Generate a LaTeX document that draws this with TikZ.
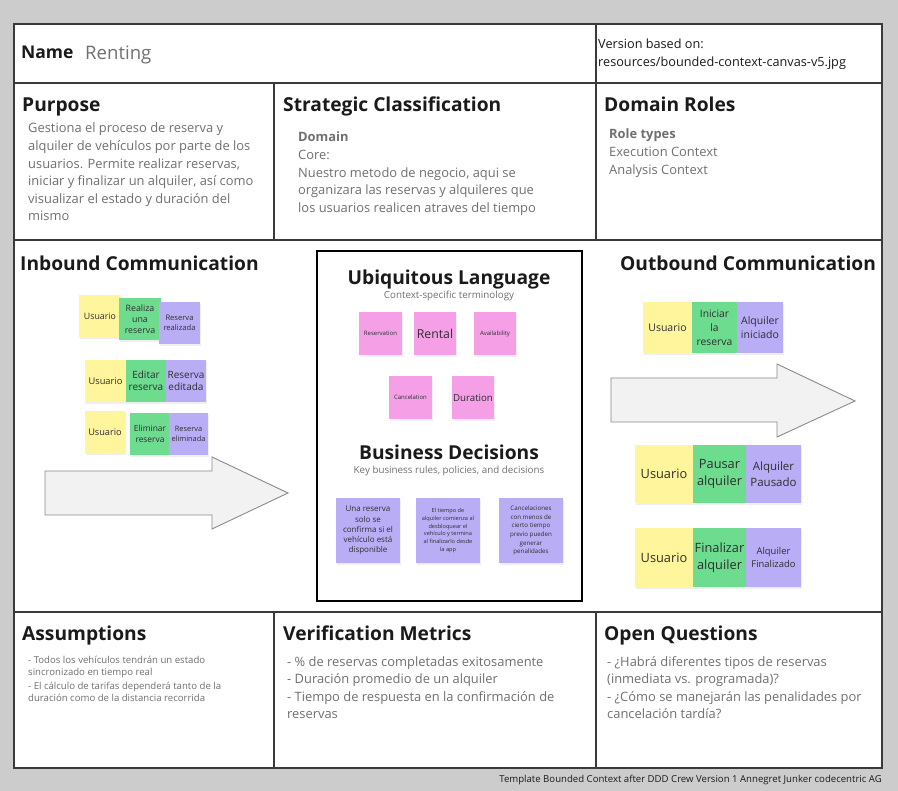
\documentclass[tikz,border=0pt]{standalone}
\usepackage{fontspec}
\setmainfont{Open Sans}
\usetikzlibrary{shadows}

\definecolor{bggray}{HTML}{CCCCCC}
\definecolor{framecol}{HTML}{3A3A3A}
\definecolor{headtext}{HTML}{1A1A1A}
\definecolor{bodygray}{HTML}{707070}
\definecolor{notetext}{HTML}{2E2E2E}
\definecolor{noteyellow}{HTML}{FFF59D}
\definecolor{notegreen}{HTML}{6EDC8F}
\definecolor{notepurple}{HTML}{B9AEF6}
\definecolor{notepink}{HTML}{F5A0E6}
\definecolor{arrowfill}{HTML}{F2F2F2}
\definecolor{arrowline}{HTML}{8A8A8A}

\newcommand{\fs}[2]{\fontsize{#1}{#2}\selectfont}

% multi-line nodes below are placed by the baseline of their last line
\tikzset{
  heading/.style={anchor=base west, inner sep=0pt, text=headtext, font=\fs{19.2}{23}\bfseries},
  ctrheading/.style={anchor=base, inner sep=0pt, text=headtext, font=\fs{19.2}{23}\bfseries},
  subline/.style={anchor=base, inner sep=0pt, text=bodygray, font=\fs{9.8}{12}},
  para/.style={anchor=base west, align=left, inner sep=0pt, text=bodygray, font=\fs{12.9}{17.6}},
  smallpara/.style={anchor=base west, align=left, inner sep=0pt, text=bodygray, font=\fs{9.6}{13}},
  note/.style={rectangle, inner sep=1pt, align=center, text=notetext,
    drop shadow={shadow xshift=0.6pt, shadow yshift=-2pt, opacity=0.12}},
  ynote/.style={note, fill=noteyellow},
  gnote/.style={note, fill=notegreen},
  pnote/.style={note, fill=notepurple},
  knote/.style={note, fill=notepink},
  frameline/.style={draw=framecol, line width=1.4pt},
  bigarrow/.style={fill=arrowfill, draw=arrowline, line width=0.9pt, line join=miter},
}

\begin{document}
\begin{tikzpicture}[x=1pt, y=-1pt]
  % canvas background and extent
  \fill[bggray] (0,0) rectangle (898,791);
  \useasboundingbox (0,0) rectangle (898,791);
  \fill[white] (14,24) rectangle (882,768);

  % grid of the canvas
  \draw[frameline] (14,24) rectangle (882,768);
  \draw[frameline] (14,83) -- (882,83);
  \draw[frameline] (14,240) -- (882,240);
  \draw[frameline] (14,612) -- (882,612);
  \draw[frameline] (596,24) -- (596,240);
  \draw[frameline] (274,83) -- (274,240);
  \draw[frameline] (274,612) -- (274,768);
  \draw[frameline] (596,612) -- (596,768);

  % name row
  \node[anchor=base west, inner sep=0pt, text=headtext, font=\fs{17.5}{20}\bfseries] (namelbl) at (21,59) {Name};
  \node[anchor=base west, inner sep=0pt, text=bodygray, font=\fs{18.6}{22}] (nameval) at (85,60) {Renting};
  \node[anchor=base west, align=left, inner sep=0pt, text=headtext, font=\fs{12.7}{18}] (version) at (598,67)
    {Version based on:\\resources/bounded-context-canvas-v5.jpg};

  % purpose
  \node[heading] (purposeh) at (22,112) {Purpose};
  \node[para] (purpose) at (28,221)
    {Gestiona el proceso de reserva y\\alquiler de vehículos por parte de los\\usuarios. Permite realizar reservas,\\iniciar y finalizar un alquiler, así como\\visualizar el estado y duración del\\mismo};

  % strategic classification
  \node[heading] (strath) at (283,112) {Strategic Classification};
  \node[para] (strat) at (298,212.4)
    {\textbf{Domain}\\Core:\\Nuestro metodo de negocio, aqui se\\organizara las reservas y alquileres que\\los usuarios realicen atraves del tiempo};

  % domain roles
  \node[heading] (rolesh) at (604,112) {Domain Roles};
  \node[para] (roles) at (609,174.2)
    {\textbf{Role types}\\Execution Context\\Analysis Context};

  % inbound communication
  \node[heading] (inh) at (20,271) {Inbound Communication};

  \node[ynote, minimum width=42pt, minimum height=42pt, font=\fs{8.8}{10}] (iu1) at (100,316) {Usuario};
  \node[gnote, minimum width=42pt, minimum height=42pt, font=\fs{8.8}{11.2}] (ic1) at (140,319) {Realiza\\una\\reserva};
  \node[pnote, minimum width=41pt, minimum height=42pt, font=\fs{7.6}{10.5}] (ie1) at (179.5,323) {Reserva\\realizada};

  \node[ynote, minimum width=41pt, minimum height=42pt, font=\fs{9.3}{11}] (iu2) at (105.5,381) {Usuario};
  \node[gnote, minimum width=40pt, minimum height=42pt, font=\fs{10}{12.5}] (ic2) at (146,381) {Editar\\reserva};
  \node[pnote, minimum width=40pt, minimum height=42pt, font=\fs{10}{12.5}] (ie2) at (186,381) {Reserva\\editada};

  \node[ynote, minimum width=40pt, minimum height=42pt, font=\fs{9.2}{11}] (iu3) at (105,432) {Usuario};
  \node[gnote, minimum width=40pt, minimum height=42pt, font=\fs{8.4}{11}] (ic3) at (150,434) {Eliminar\\reserva};
  \node[pnote, minimum width=39pt, minimum height=42pt, font=\fs{7.4}{10}] (ie3) at (188.5,434) {Reserva\\eliminada};

  \draw[bigarrow] (45,471) -- (212,471) -- (212,457) -- (288,493) -- (212,529) -- (212,515) -- (45,515) -- cycle;

  % ubiquitous language and business decisions
  \draw[draw=black, line width=1.1pt] (317,251) rectangle (582,601);
  \node[ctrheading] (ulh) at (449,285) {Ubiquitous Language};
  \node[subline] (uls) at (449,299) {Context-specific terminology};

  \node[knote, minimum width=43pt, minimum height=43pt, font=\fs{6}{7}] (t1) at (380.5,333.5) {Reservation};
  \node[knote, minimum width=42pt, minimum height=43pt, font=\fs{12.3}{14}] (t2) at (435,333.5) {Rental};
  \node[knote, minimum width=42pt, minimum height=43pt, font=\fs{6}{7}] (t3) at (495,333.5) {Availability};
  \node[knote, minimum width=43pt, minimum height=43pt, font=\fs{6}{7}] (t4) at (410.5,397.5) {Cancelation};
  \node[knote, minimum width=42pt, minimum height=43pt, font=\fs{9.7}{11}] (t5) at (473,397.5) {Duration};

  \node[ctrheading] (bdh) at (449,460) {Business Decisions};
  \node[subline] (bds) at (449,474) {Key business rules, policies, and decisions};

  \node[pnote, minimum width=64pt, minimum height=65pt, font=\fs{8}{10.3}] (d1) at (368,530.5)
    {Una reserva\\solo se\\confirma si el\\vehículo está\\disponible};
  \node[pnote, minimum width=64pt, minimum height=65pt, font=\fs{5.6}{7.8}] (d2) at (448,530.5)
    {El tiempo de\\alquiler comienza al\\desbloquear el\\vehículo y termina\\al finalizarlo desde\\la app};
  \node[pnote, minimum width=64pt, minimum height=65pt, font=\fs{6.2}{8.6}] (d3) at (531,530.5)
    {Cancelaciones\\con menos de\\cierto tiempo\\previo pueden\\generar\\penalidades};

  % outbound communication
  \node[heading] (outh) at (620,271) {Outbound Communication};

  \node[ynote, minimum width=49pt, minimum height=51pt, font=\fs{10.5}{12}] (ou1) at (667.5,327.5) {Usuario};
  \node[gnote, minimum width=45pt, minimum height=51pt, font=\fs{10.3}{14}] (oc1) at (714.5,327.5) {Iniciar\\la\\reserva};
  \node[pnote, minimum width=46pt, minimum height=51pt, font=\fs{10.5}{14}] (oe1) at (760,327.5) {Alquiler\\iniciado};

  \draw[bigarrow] (611,378) -- (777,378) -- (777,364) -- (855,401) -- (777,437) -- (777,422) -- (611,422) -- cycle;

  \node[ynote, minimum width=58pt, minimum height=58pt, font=\fs{12.8}{15}] (ou2) at (664,474) {Usuario};
  \node[gnote, minimum width=53pt, minimum height=58pt, font=\fs{12.8}{17.5}] (oc2) at (719.5,474) {Pausar\\alquiler};
  \node[pnote, minimum width=55pt, minimum height=58pt, font=\fs{11.5}{16.5}] (oe2) at (773.5,474) {Alquiler\\Pausado};

  \node[ynote, minimum width=58pt, minimum height=59pt, font=\fs{12.8}{15}] (ou3) at (664,557.5) {Usuario};
  \node[gnote, minimum width=53pt, minimum height=59pt, font=\fs{12.8}{17.5}] (oc3) at (719.5,557.5) {Finalizar\\alquiler};
  \node[pnote, minimum width=55pt, minimum height=59pt, font=\fs{9.4}{13.5}] (oe3) at (773.5,557.5) {Alquiler\\Finalizado};

  % assumptions
  \node[heading] (assumh) at (22,641) {Assumptions};
  \node[smallpara] (assum) at (28,702)
    {- Todos los vehículos tendrán un estado\\sincronizado en tiempo real\\- El cálculo de tarifas dependerá tanto de la\\duración como de la distancia recorrida};

  % verification metrics
  \node[heading] (verh) at (283,641) {Verification Metrics};
  \node[para] (ver) at (287,718.8)
    {- \% de reservas completadas exitosamente\\- Duración promedio de un alquiler\\- Tiempo de respuesta en la confirmación de\\reservas};

  % open questions
  \node[heading] (oqh) at (604,641) {Open Questions};
  \node[para] (oq) at (607,718.8)
    {- ¿Habrá diferentes tipos de reservas\\(inmediata vs. programada)?\\- ¿Cómo se manejarán las penalidades por\\cancelación tardía?};

  % footer
  \node[anchor=base east, inner sep=0pt, text=headtext, font=\fs{9.6}{11}] (footer) at (882,782)
    {Template Bounded Context after DDD Crew Version 1 Annegret Junker codecentric AG};
\end{tikzpicture}
\end{document}
